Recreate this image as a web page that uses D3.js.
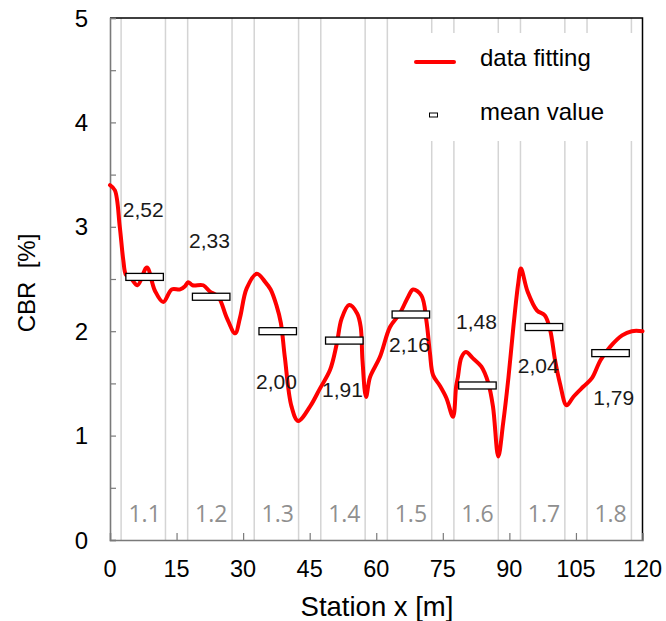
<!DOCTYPE html>
<html>
<head>
<meta charset="utf-8">
<script src="https://cdn.jsdelivr.net/npm/d3@7"></script>
<style>
  html, body { margin: 0; padding: 0; background: #fff; }
  svg { display: block; font-family: Arial, "Liberation Sans", sans-serif; }
</style>
</head>
<body>
<svg id="chart" width="666" height="621"></svg>
<script>
// CBR profile along the station, fitted curve
const stationX = [0, 1.1, 2.2, 3.0, 3.6, 4.5, 6.2, 8.3, 10.1, 12.0, 13.9, 15.8, 16.9, 17.6, 18.6, 21.0,
  22.5, 24.4, 26.3, 28.2, 29.3, 30.8, 33.1, 35.0, 36.2, 37.5, 38.5, 39.4, 40.9, 42.4, 45.1, 47.3,
  49.6, 51.1, 52.2, 53.9, 55.7, 56.5, 56.9, 57.7, 58.6, 60.8, 63.1, 65.3, 67.2, 68.3, 70.2, 71.3,
  72.1, 72.8, 74.3, 75.8, 77.3, 78.0, 78.4, 79.2, 80.2, 81.8, 83.7, 85.2, 86.3, 87.5, 88.6, 89.8,
  90.9, 92.0, 92.6, 94.1, 96.2, 98.0, 99.2, 100.3, 101.4, 102.9, 104.4, 106.7, 108.6, 110.5, 112.7,
  115.4, 117.6, 120];
const cbrFit = [3.40, 3.35, 3.00, 2.68, 2.54, 2.52, 2.44, 2.61, 2.39, 2.28, 2.40, 2.40, 2.43, 2.47, 2.44, 2.44,
  2.38, 2.33, 2.13, 1.98, 2.13, 2.41, 2.55, 2.47, 2.40, 2.25, 2.08, 1.75, 1.28, 1.14, 1.28, 1.45,
  1.63, 1.88, 2.12, 2.25, 2.17, 2.04, 1.72, 1.37, 1.56, 1.75, 2.04, 2.17, 2.33, 2.40, 2.34, 2.10,
  1.79, 1.58, 1.48, 1.36, 1.18, 1.47, 1.56, 1.75, 1.80, 1.74, 1.66, 1.51, 1.28, 0.80, 1.12, 1.56,
  2.04, 2.46, 2.60, 2.38, 2.20, 2.15, 2.01, 1.72, 1.50, 1.29, 1.37, 1.47, 1.55, 1.72, 1.85,
  1.96, 2.00, 2.00];

// Test sections (start / end station in m), names and mean CBR
const sectionNames = ["1.1", "1.2", "1.3", "1.4", "1.5", "1.6", "1.7", "1.8"];
const sectionStart = [2.5, 17.5, 32.5, 47.5, 62.5, 77.5, 92.5, 107.5];
const sectionEnd   = [12.5, 27.5, 42.5, 57.5, 72.5, 87.5, 102.5, 117.5];
const meanCBR      = [2.52, 2.33, 2.00, 1.91, 2.16, 1.48, 2.04, 1.79];

// Where each mean-value caption sits (station m, CBR)
const captionX = [7.5, 22.4, 37.5, 52.4, 67.5, 82.6, 96.5, 113.5];
const captionY = [3.09, 2.80, 1.45, 1.37, 1.80, 2.02, 1.60, 1.29];

// Axis ticks
const xTicks = [0, 15, 30, 45, 60, 75, 90, 105, 120];
const yTicks = [0, 1, 2, 3, 4, 5];
const yMinorTicks = [0, 0.5, 1, 1.5, 2, 2.5, 3, 3.5, 4, 4.5, 5];

const fmtComma = v => v.toFixed(2).replace(".", ",");

const svg = d3.select("#chart");
const W = 666, H = 621;
const m = { left: 110, right: 23.5, top: 18, bottom: 81 };

const x = d3.scaleLinear().domain([0, 120]).range([m.left, W - m.right]);
const y = d3.scaleLinear().domain([0, 5]).range([H - m.bottom, m.top]);

// Section boundary lines
const bounds = sectionStart.concat(sectionEnd);
svg.append("g").selectAll("line").data(bounds).join("line")
  .attr("x1", d => x(d)).attr("x2", d => x(d))
  .attr("y1", y(5)).attr("y2", y(0))
  .attr("stroke", "#d4d4d4").attr("stroke-width", 1.5);

// Section names
svg.append("g").selectAll("text").data(sectionNames).join("text")
  .attr("x", (d, i) => x((sectionStart[i] + sectionEnd[i]) / 2 + 0.3))
  .attr("y", y(0) - 18.5)
  .attr("text-anchor", "middle")
  .attr("font-family", "'Open Sans', sans-serif")
  .attr("font-size", 23)
  .attr("fill", "#8f8f8f")
  .text(d => d);

// Frame: top and right border
svg.append("path")
  .attr("d", `M${x(0)},${y(5)}H${x(120)}V${y(0)}`)
  .attr("fill", "none").attr("stroke", "#000").attr("stroke-width", 1.5);

// Left axis (ticks pointing inward)
const yAxis = d3.axisLeft(y).tickValues(yMinorTicks).tickSize(-6).tickFormat("");
const gy = svg.append("g").attr("transform", `translate(${x(0)},0)`).call(yAxis);
gy.select(".domain").attr("stroke", "#7a7a7a").attr("stroke-width", 1.6);
gy.selectAll(".tick line").attr("stroke", "#7a7a7a").attr("stroke-width", 1.2);

svg.append("g").selectAll("text").data(yTicks).join("text")
  .attr("x", x(0) - 22)
  .attr("y", d => y(d))
  .attr("dy", "0.36em")
  .attr("text-anchor", "end")
  .attr("font-size", 24)
  .attr("fill", "#000")
  .text(d => d);

// Bottom axis (ticks pointing inward)
const xAxis = d3.axisBottom(x).tickValues(xTicks.slice(1, -1)).tickSize(-7).tickFormat("");
const gx = svg.append("g").attr("transform", `translate(0,${y(0)})`).call(xAxis);
gx.select(".domain").attr("stroke", "#7a7a7a").attr("stroke-width", 1.6);
gx.selectAll(".tick line").attr("stroke", "#7a7a7a").attr("stroke-width", 1.2);

svg.append("g").selectAll("text").data(xTicks).join("text")
  .attr("x", d => x(d))
  .attr("y", y(0) + 37)
  .attr("text-anchor", "middle")
  .attr("font-size", 23.5)
  .attr("fill", "#000")
  .text(d => d);

// Axis titles
svg.append("text")
  .attr("x", 377)
  .attr("y", 616)
  .attr("text-anchor", "middle")
  .attr("font-size", 27.5)
  .attr("fill", "#000")
  .text("Station x [m]");

svg.append("text")
  .attr("transform", `translate(35,283) rotate(-90)`)
  .attr("text-anchor", "middle")
  .attr("font-size", 24)
  .attr("fill", "#000")
  .style("white-space", "pre")
  .text("CBR  [%]");

// Fitted curve
const pts = stationX.map((s, i) => [s, cbrFit[i]]);
const line = d3.line()
  .x(d => x(d[0])).y(d => y(d[1]))
  .curve(d3.curveCatmullRom.alpha(0.5));
svg.append("path")
  .datum(pts)
  .attr("d", line)
  .attr("fill", "none")
  .attr("stroke", "#ff0000")
  .attr("stroke-width", 4)
  .attr("stroke-linejoin", "round")
  .attr("stroke-linecap", "round");

// Mean value boxes
const boxW = x(8.45) - x(0), boxH = 7;
svg.append("g").selectAll("rect").data(meanCBR).join("rect")
  .attr("x", (d, i) => x((sectionStart[i] + sectionEnd[i]) / 2 + 0.3) - boxW / 2)
  .attr("y", d => y(d) - boxH / 2)
  .attr("width", boxW).attr("height", boxH)
  .attr("fill", "#fff").attr("stroke", "#000").attr("stroke-width", 1.3);

// Mean value captions
svg.append("g").selectAll("text").data(meanCBR).join("text")
  .attr("x", (d, i) => x(captionX[i]))
  .attr("y", (d, i) => y(captionY[i]))
  .attr("text-anchor", "middle")
  .attr("font-size", 21)
  .attr("fill", "#1a1a1a")
  .text(d => fmtComma(d));

// Legend
const lg = svg.append("g");
lg.append("rect").attr("x", 405).attr("y", 33).attr("width", 236).attr("height", 108).attr("fill", "#fff");
lg.append("line").attr("x1", 416).attr("x2", 454).attr("y1", 62).attr("y2", 62)
  .attr("stroke", "#ff0000").attr("stroke-width", 4).attr("stroke-linecap", "round");
lg.append("text").attr("x", 480).attr("y", 66).attr("font-size", 24).attr("fill", "#000").text("data fitting");
lg.append("rect").attr("x", 429.5).attr("y", 113).attr("width", 8).attr("height", 4)
  .attr("fill", "#fff").attr("stroke", "#000").attr("stroke-width", 1);
lg.append("text").attr("x", 480).attr("y", 120).attr("font-size", 24).attr("fill", "#000").text("mean value");
</script>
</body>
</html>
